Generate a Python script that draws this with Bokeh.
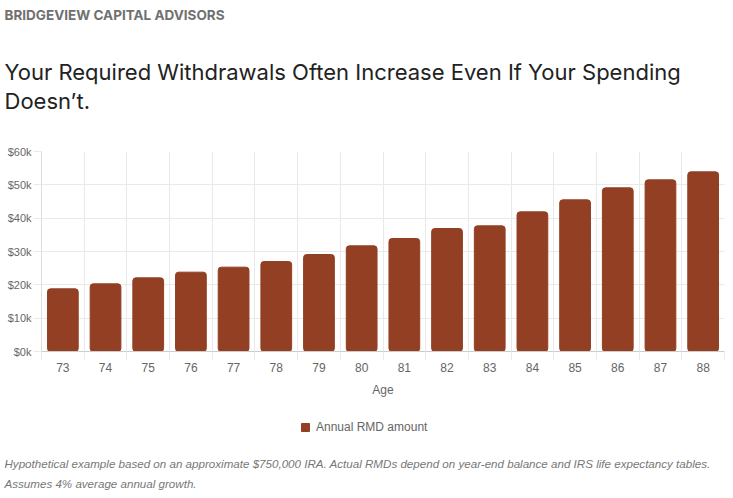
from bokeh.plotting import figure
from bokeh.layouts import column
from bokeh.models import (Range1d, FixedTicker, Title, Legend, LegendItem, Label)
from bokeh.embed import file_html
from bokeh.resources import INLINE

# ---- data ----
ages = [73, 74, 75, 76, 77, 78, 79, 80, 81, 82, 83, 84, 85, 86, 87, 88]
rmd_amount = [18800, 20300, 22100, 23800, 25300, 27000, 29100, 31700,
              33900, 36900, 37700, 41900, 45500, 49100, 51500, 53900]
y_ticks = [0, 10000, 20000, 30000, 40000, 50000, 60000]
y_tick_labels = ["$0k", "$10k", "$20k", "$30k", "$40k", "$50k", "$60k"]
x_tick_labels = [str(a) for a in ages]
series_name = "Annual RMD amount"
brand = "BRIDGEVIEW CAPITAL ADVISORS"
title_lines = ["Your Required Withdrawals Often Increase Even If Your Spending",
               "Doesn\u2019t."]
footnote_lines = ["Hypothetical example based on an approximate $750,000 IRA. Actual RMDs depend on year-end balance and IRS life expectancy tables.",
                  "Assumes 4% average annual growth."]

BAR = "#923f23"
GRID = "#e9e9e9"
TICK_FONT = "Liberation Sans"
W = 726

boundaries = [a - 0.5 for a in ages] + [ages[-1] + 0.5]

p = figure(width=W, height=400, output_backend="svg", toolbar_location=None,
           x_range=Range1d(ages[0] - 0.5, ages[-1] + 0.5),
           y_range=Range1d(0, 60000),
           min_border_left=41, min_border_right=2, min_border_top=151,
           min_border_bottom=49)
p.frame_align = False
p.outline_line_color = None
p.background_fill_color = "white"
p.border_fill_color = "white"

r = p.vbar(x=ages, top=rmd_amount, width=0.72, bottom=0,
           fill_color=BAR, line_color=BAR, line_width=1, border_radius=3)

# y axis
p.yaxis.ticker = FixedTicker(ticks=y_ticks)
p.yaxis.major_label_overrides = {t: l for t, l in zip(y_ticks, y_tick_labels)}
p.yaxis.major_label_text_font = TICK_FONT
p.yaxis.major_label_text_font_size = "11px"
p.yaxis.major_label_text_color = "#666666"
p.yaxis.major_tick_out = 8
p.yaxis.major_tick_in = 0
p.yaxis.major_tick_line_color = GRID
p.yaxis.minor_tick_line_color = None
p.yaxis.axis_line_color = "#dddddd"
p.yaxis.major_label_standoff = 2

# x axis
p.xaxis.ticker = FixedTicker(ticks=ages, minor_ticks=boundaries)
p.xaxis.major_label_overrides = {a: l for a, l in zip(ages, x_tick_labels)}
p.xaxis.major_label_text_font = TICK_FONT
p.xaxis.major_label_text_font_size = "12px"
p.xaxis.major_label_text_color = "#666666"
p.xaxis.major_tick_out = 0
p.xaxis.major_tick_in = 0
p.xaxis.major_tick_line_color = None
p.xaxis.minor_tick_out = 8
p.xaxis.minor_tick_in = 0
p.xaxis.minor_tick_line_color = GRID
p.xaxis.axis_line_color = "#cccccc"
p.xaxis.major_label_standoff = 3
p.xaxis.axis_label = "Age"
p.xaxis.axis_label_text_font = TICK_FONT
p.xaxis.axis_label_text_font_size = "12px"
p.xaxis.axis_label_text_font_style = "normal"
p.xaxis.axis_label_text_color = "#666666"
p.xaxis.axis_label_standoff = 8

p.xgrid.ticker = FixedTicker(ticks=boundaries)
p.xgrid.grid_line_color = GRID
p.ygrid.ticker = FixedTicker(ticks=y_ticks)
p.ygrid.grid_line_color = GRID

# header: title block (nearest frame), then brand line
p.add_layout(Title(text="\n".join(title_lines), align="left", offset=-37,
                   vertical_align="top", standoff=72,
                   text_font="Inter", text_font_size="22px", text_font_style="normal",
                   text_color="#222222", text_line_height=1.13), "above")
p.add_layout(Title(text=brand, align="left", offset=-37, vertical_align="bottom",
                   standoff=0, text_font="Inter", text_font_size="13.5px",
                   text_font_style="bold", text_color="#707070"), "above")

# footer figure: legend + footnote
FH = 92
f = figure(width=W, height=FH, output_backend="svg", toolbar_location=None,
           x_range=Range1d(0, 1), y_range=Range1d(0, 1),
           x_axis_type=None, y_axis_type=None,
           min_border_left=0, min_border_right=0, min_border_top=0,
           min_border_bottom=0)
f.frame_align = False
f.outline_line_color = None
f.grid.visible = False
f.background_fill_color = "white"
f.border_fill_color = "white"
# legend swatch renderer: same series, lying outside this footer's visible range
swatch = f.vbar(x=ages, top=rmd_amount, width=0.72, fill_color=BAR, line_color=BAR,
                border_radius=2)

legend = Legend(items=[LegendItem(label=series_name, renderers=[swatch])],
                location=(300, FH - 37), orientation="horizontal",
                glyph_width=10, glyph_height=10, label_standoff=6,
                padding=0, margin=0, spacing=0, label_height=20,
                border_line_color=None, background_fill_alpha=0,
                label_text_font=TICK_FONT, label_text_font_size="12px",
                label_text_color="#666666")
f.add_layout(legend, "center")

for i, line in enumerate(footnote_lines):
    f.add_layout(Label(x=4, y=FH - 63 - 20 * i, x_units="screen", y_units="screen",
                       text=line, text_font=TICK_FONT, text_font_size="11.6px",
                       text_font_style="italic", text_color="#777777",
                       text_baseline="middle"))

layout = column(p, f, spacing=0)
open("out.html", "w").write(file_html(layout, INLINE))
